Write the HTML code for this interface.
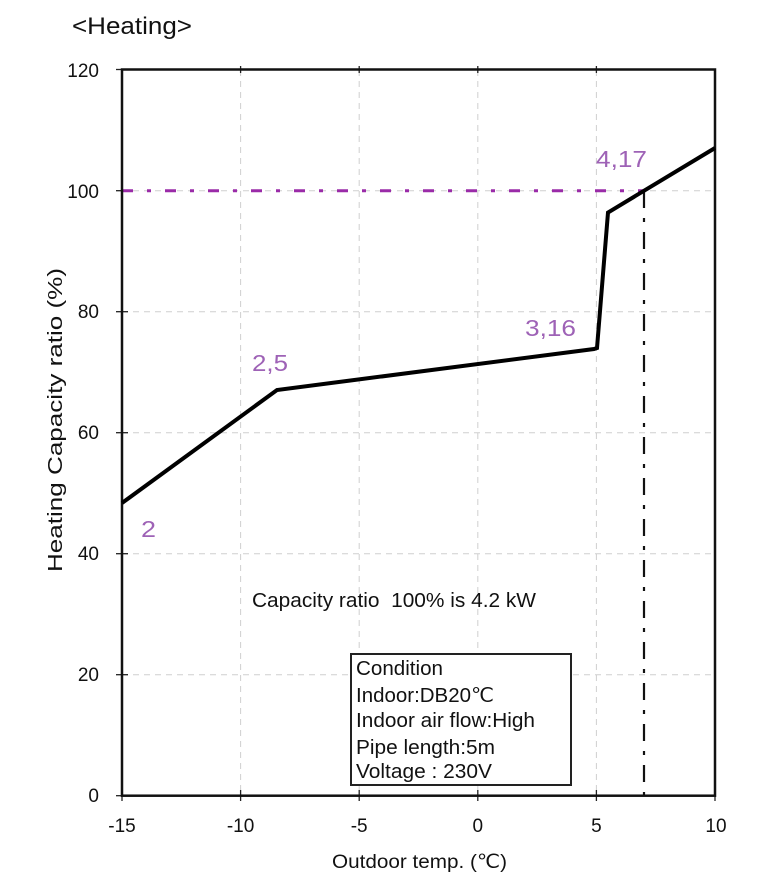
<!DOCTYPE html>
<html>
<head>
<meta charset="utf-8">
<style>
  html,body{margin:0;padding:0;background:#fff;}
  svg{display:block;}
  text{font-family:"Liberation Sans", Arial, sans-serif;}
</style>
</head>
<body>
<svg width="760" height="890" viewBox="0 0 760 890" xmlns="http://www.w3.org/2000/svg">
  <rect x="0" y="0" width="760" height="890" fill="#fff"/>
  <!-- title -->
  <text x="72" y="34" font-size="24" fill="#111" textLength="120" lengthAdjust="spacingAndGlyphs">&lt;Heating&gt;</text>

  <!-- grid -->
  <g stroke="#cfcfcf" stroke-width="1" stroke-dasharray="6,5" fill="none">
    <line x1="240.6" y1="70" x2="240.6" y2="795"/>
    <line x1="359.2" y1="70" x2="359.2" y2="795"/>
    <line x1="477.8" y1="70" x2="477.8" y2="795"/>
    <line x1="596.4" y1="70" x2="596.4" y2="795"/>
    <line x1="122" y1="674.7" x2="715" y2="674.7"/>
    <line x1="122" y1="553.7" x2="715" y2="553.7"/>
    <line x1="122" y1="432.7" x2="715" y2="432.7"/>
    <line x1="122" y1="311.7" x2="715" y2="311.7"/>
    <line x1="122" y1="190.7" x2="715" y2="190.7"/>
  </g>

  <!-- ticks -->
  <g stroke="#222" stroke-width="1.3">
    <line x1="116" y1="69.5" x2="128" y2="69.5"/>
    <line x1="116" y1="190.7" x2="128" y2="190.7"/>
    <line x1="116" y1="311.7" x2="128" y2="311.7"/>
    <line x1="116" y1="432.7" x2="128" y2="432.7"/>
    <line x1="116" y1="553.7" x2="128" y2="553.7"/>
    <line x1="116" y1="674.7" x2="128" y2="674.7"/>
    <line x1="116" y1="795.7" x2="128" y2="795.7"/>
    <line x1="122" y1="790" x2="122" y2="801"/>
    <line x1="240.6" y1="790" x2="240.6" y2="801"/>
    <line x1="359.2" y1="790" x2="359.2" y2="801"/>
    <line x1="477.8" y1="790" x2="477.8" y2="801"/>
    <line x1="596.4" y1="790" x2="596.4" y2="801"/>
    <line x1="715" y1="790" x2="715" y2="801"/>
    <line x1="240.6" y1="66" x2="240.6" y2="73"/>
    <line x1="359.2" y1="66" x2="359.2" y2="73"/>
    <line x1="477.8" y1="66" x2="477.8" y2="73"/>
    <line x1="596.4" y1="66" x2="596.4" y2="73"/>
  </g>

  <!-- purple 100% dash-dot -->
  <line x1="122" y1="190.7" x2="644" y2="190.7" stroke="#9a2ba8" stroke-width="3" stroke-dasharray="11,14,4,14"/>
  <!-- vertical dash-dot at 7 -->
  <line x1="644" y1="191" x2="644" y2="795" stroke="#111" stroke-width="2.2" stroke-dasharray="17,10,4,10"/>

  <!-- plot border -->
  <rect x="122" y="69.5" width="593" height="726.2" fill="none" stroke="#111" stroke-width="2.5"/>

  <!-- curve -->
  <polyline points="122,503 277,390 594,349 597,348 608,212.5 715,148" fill="none" stroke="#000" stroke-width="4" stroke-linejoin="miter"/>

  <!-- y tick labels -->
  <g font-size="19" fill="#111" text-anchor="end">
    <text x="99" y="77">120</text>
    <text x="99" y="198">100</text>
    <text x="99" y="318">80</text>
    <text x="99" y="439">60</text>
    <text x="99" y="560">40</text>
    <text x="99" y="681">20</text>
    <text x="99" y="802">0</text>
  </g>
  <!-- x tick labels -->
  <g font-size="19" fill="#111" text-anchor="middle">
    <text x="122" y="832">-15</text>
    <text x="240.6" y="832">-10</text>
    <text x="359.2" y="832">-5</text>
    <text x="477.8" y="832">0</text>
    <text x="596.4" y="832">5</text>
    <text x="716" y="832">10</text>
  </g>

  <!-- axis titles -->
  <text x="332" y="868" font-size="19" fill="#111" textLength="175" lengthAdjust="spacingAndGlyphs">Outdoor temp. (℃)</text>
  <text transform="translate(62,572) rotate(-90)" x="0" y="0" font-size="20.5" fill="#111" textLength="304" lengthAdjust="spacingAndGlyphs">Heating Capacity ratio (%)</text>

  <!-- data labels -->
  <g font-size="23" fill="#9e62b6">
    <text x="141" y="537" textLength="15" lengthAdjust="spacingAndGlyphs">2</text>
    <text x="252" y="371" textLength="36" lengthAdjust="spacingAndGlyphs">2,5</text>
    <text x="525" y="336" textLength="51" lengthAdjust="spacingAndGlyphs">3,16</text>
    <text x="596" y="167" textLength="51" lengthAdjust="spacingAndGlyphs">4,17</text>
  </g>

  <!-- capacity note -->
  <text x="252" y="607" font-size="20" fill="#111" textLength="284" lengthAdjust="spacingAndGlyphs" xml:space="preserve">Capacity ratio  100% is 4.2 kW</text>

  <!-- condition box -->
  <rect x="351" y="654" width="220" height="131" fill="#fff" stroke="#222" stroke-width="2"/>
  <g font-size="20" fill="#111">
    <text x="356" y="675" textLength="87" lengthAdjust="spacingAndGlyphs">Condition</text>
    <text x="356" y="702" textLength="138" lengthAdjust="spacingAndGlyphs">Indoor:DB20℃</text>
    <text x="356" y="727" textLength="179" lengthAdjust="spacingAndGlyphs">Indoor air flow:High</text>
    <text x="356" y="754" textLength="139" lengthAdjust="spacingAndGlyphs">Pipe length:5m</text>
    <text x="356" y="778" textLength="136" lengthAdjust="spacingAndGlyphs">Voltage : 230V</text>
  </g>
</svg>
</body>
</html>
